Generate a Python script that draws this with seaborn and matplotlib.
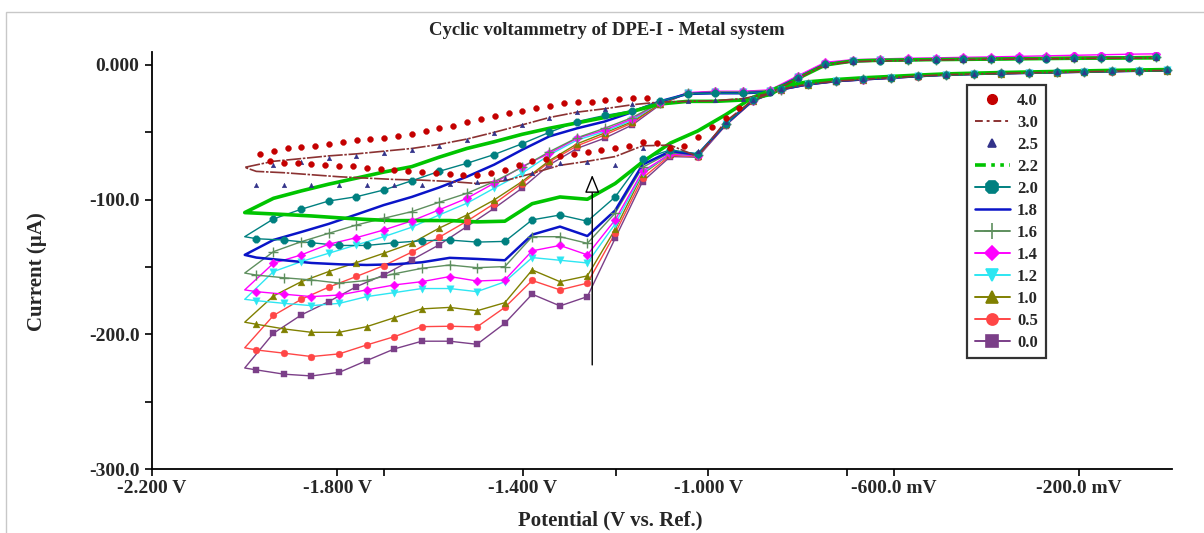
import matplotlib
matplotlib.use("Agg")
import matplotlib.pyplot as plt
import seaborn as sns
from matplotlib.lines import Line2D
from matplotlib.patches import Rectangle

# potentials (V) where the forward (cathodic) and reverse branches were sampled
GRID_FWD = [-1.975, -1.915, -1.856, -1.796, -1.737, -1.677, -1.618, -1.558, -1.499,
            -1.439, -1.380, -1.320, -1.261, -1.201, -1.142, -1.082, -1.023, -0.963,
            -0.904, -0.844, -0.785, -0.725, -0.666, -0.606, -0.547, -0.487, -0.428,
            -0.368, -0.309, -0.249, -0.190, -0.130, -0.071, -0.011]
GRID_REV = [-1.938, -1.878, -1.819, -1.759, -1.700, -1.640, -1.581, -1.521, -1.462,
            -1.402, -1.343, -1.283, -1.224, -1.164, -1.105, -1.045, -0.986, -0.926,
            -0.867, -0.807, -0.748, -0.688, -0.629, -0.569, -0.510, -0.450, -0.391,
            -0.331, -0.272, -0.212, -0.153, -0.093, -0.034]
SWITCH = -2.0

SERIES = ["0.0", "0.5", "1.0", "1.2", "1.4", "1.6", "1.8", "2.0", "2.2", "2.5", "3.0"]
TIPS = [-225.0, -210.0, -191.0, -174.0, -167.0, -154.5, -141.0, -127.5, -109.6, -88.0, -76.0]

LOW_00 = [-226.4, -229.6, -230.9, -228.2, -219.5, -210.8, -205.1, -205.1, -207.4, -191.8, -170.2, -178.9, -172.0, -128.7, -86.6, -68.0, -68.5, -45.0, -27.0, -18.6, -14.8, -12.4, -11.1, -9.9, -8.7, -7.6, -7.0, -6.6, -6.2, -5.8, -5.4, -5.0, -4.6, -4.3]
LOW_05 = [-211.6, -214.0, -216.5, -214.5, -207.9, -201.7, -194.3, -194.0, -194.5, -180.0, -160.0, -167.0, -162.0, -125.0, -84.0, -67.0, -68.0, -44.5, -26.8, -18.5, -14.6, -12.2, -11.0, -9.8, -8.6, -7.5, -7.0, -6.5, -6.1, -5.7, -5.3, -4.9, -4.5, -4.2]
LOW_10 = [-192.5, -196.0, -198.5, -198.5, -194.3, -187.6, -181.1, -180.0, -182.5, -176.5, -152.2, -160.9, -156.6, -122.0, -81.0, -66.0, -67.5, -44.0, -26.5, -18.4, -14.5, -12.2, -10.9, -9.7, -8.5, -7.4, -6.9, -6.4, -6.0, -5.6, -5.2, -4.8, -4.4, -4.1]
LOW_12 = [-175.0, -177.0, -178.7, -177.0, -172.0, -169.0, -166.0, -166.0, -168.3, -161.0, -143.0, -145.0, -147.0, -118.0, -80.0, -66.0, -67.5, -44.0, -26.5, -18.3, -14.4, -12.1, -10.8, -9.6, -8.4, -7.4, -6.9, -6.4, -6.0, -5.6, -5.2, -4.8, -4.4, -4.0]
LOW_14 = [-168.3, -170.2, -172.0, -170.8, -167.0, -163.3, -160.9, -157.1, -160.4, -159.6, -138.0, -134.0, -141.0, -115.0, -79.0, -66.0, -67.5, -44.0, -26.4, -18.3, -14.4, -12.1, -10.8, -9.6, -8.4, -7.3, -6.8, -6.3, -5.9, -5.5, -5.1, -4.7, -4.3, -4.0]
LOW_16 = [-156.0, -158.0, -159.6, -162.0, -160.0, -155.0, -151.0, -148.5, -150.5, -149.7, -127.5, -127.5, -132.4, -110.0, -76.0, -65.0, -67.0, -44.0, -26.3, -18.2, -14.3, -12.0, -10.7, -9.5, -8.3, -7.3, -6.8, -6.3, -5.9, -5.5, -5.1, -4.7, -4.3, -4.0]
LOW_18 = [-143.0, -145.0, -147.0, -148.0, -148.5, -148.0, -146.5, -143.2, -144.0, -145.0, -126.0, -120.0, -127.0, -108.0, -74.0, -64.0, -66.5, -44.0, -26.2, -18.2, -14.3, -12.0, -10.7, -9.5, -8.3, -7.2, -6.7, -6.2, -5.8, -5.4, -5.0, -4.6, -4.3, -4.0]
LOW_20 = [-129.0, -130.0, -132.0, -134.0, -134.0, -132.0, -130.5, -130.0, -131.5, -131.0, -115.0, -111.4, -116.0, -98.0, -70.0, -63.0, -66.0, -44.0, -26.0, -18.0, -14.2, -12.0, -10.6, -9.4, -8.2, -7.2, -6.7, -6.2, -5.8, -5.4, -5.0, -4.6, -4.3, -4.0]
LOW_22 = [-110.0, -111.0, -112.1, -113.5, -114.7, -115.6, -115.5, -115.5, -116.5, -116.0, -103.0, -98.0, -99.7, -88.0, -72.0, -58.0, -49.0, -37.0, -24.0, -16.0, -12.5, -10.8, -9.5, -8.5, -7.5, -6.6, -6.1, -5.6, -5.2, -4.8, -4.4, -4.0, -3.7, -3.4]
LOW_25 = [-89.0, -89.0, -89.0, -89.0, -89.0, -89.0, -89.0, -88.5, -87.0, -84.0, -80.0, -73.0, -72.0, -74.5, -62.0, -60.0, -64.0, -42.0, -26.0, -18.0, -14.2, -12.0, -10.6, -9.4, -8.2, -7.2, -6.7, -6.2, -5.8, -5.4, -5.0, -4.6, -4.3, -4.0]
LOW_30 = [-79.0, -80.0, -81.5, -83.0, -84.0, -85.0, -85.5, -86.5, -88.0, -86.0, -80.5, -74.5, -71.5, -68.0, -60.0, -59.5, -68.0, -42.0, -26.0, -18.0, -14.2, -12.0, -10.6, -9.4, -8.2, -7.2, -6.7, -6.2, -5.8, -5.4, -5.0, -4.6, -4.3, -4.0]

UP_00 = [-199.2, -185.6, -175.7, -164.6, -155.9, -144.8, -133.6, -120.0, -106.4, -91.5, -74.2, -61.9, -54.4, -44.5, -29.7, -21.0, -20.0, -20.0, -19.0, -9.0, 1.0, 3.0, 3.5, 4.0, 4.0, 4.5, 4.5, 5.0, 5.0, 5.5, 5.5, 6.0, 6.0]
UP_05 = [-186.0, -174.0, -165.0, -157.0, -149.0, -139.0, -128.0, -116.0, -103.0, -88.0, -72.0, -60.0, -52.0, -43.0, -29.0, -21.0, -20.0, -20.0, -19.0, -9.0, 1.0, 3.2, 3.8, 4.2, 4.5, 4.8, 5.0, 5.3, 5.5, 5.8, 6.0, 6.2, 6.5]
UP_10 = [-171.5, -160.9, -153.4, -146.7, -139.8, -132.4, -121.2, -111.4, -100.2, -86.6, -71.0, -58.5, -50.5, -42.0, -29.0, -21.0, -20.0, -20.0, -19.0, -9.0, 1.0, 3.0, 3.5, 4.0, 4.2, 4.5, 4.7, 5.0, 5.2, 5.4, 5.6, 5.8, 6.0]
UP_12 = [-153.4, -146.0, -139.8, -133.6, -127.5, -120.5, -111.4, -102.7, -91.5, -80.4, -66.8, -55.7, -49.5, -41.0, -28.0, -21.0, -20.0, -20.0, -19.0, -9.0, 1.0, 3.0, 3.5, 4.0, 4.2, 4.5, 4.7, 5.0, 5.2, 5.4, 5.6, 5.8, 6.0]
UP_14 = [-147.2, -141.0, -133.1, -128.2, -122.5, -115.8, -107.6, -99.0, -87.8, -75.5, -65.6, -54.4, -48.3, -40.0, -28.0, -20.5, -19.5, -19.5, -18.5, -8.0, 2.0, 4.0, 4.5, 5.0, 5.3, 5.7, 6.0, 6.4, 6.8, 7.2, 7.6, 8.0, 8.3]
UP_16 = [-138.6, -131.2, -125.0, -118.8, -113.8, -108.9, -102.0, -95.3, -86.6, -76.0, -64.4, -54.0, -47.0, -39.0, -28.0, -21.0, -20.0, -20.0, -19.0, -9.0, 1.0, 3.0, 3.5, 3.8, 4.0, 4.3, 4.5, 4.8, 5.0, 5.2, 5.4, 5.6, 5.8]
UP_18 = [-129.9, -124.0, -118.0, -111.0, -104.0, -98.0, -91.0, -83.0, -74.0, -63.0, -53.0, -47.0, -42.0, -35.0, -27.0, -21.5, -21.0, -21.0, -20.0, -9.5, 0.5, 2.8, 3.3, 3.7, 4.0, 4.2, 4.4, 4.6, 4.8, 5.0, 5.2, 5.4, 5.6]
UP_20 = [-114.3, -107.1, -101.0, -97.8, -92.8, -86.0, -79.0, -73.0, -66.5, -58.5, -50.0, -42.0, -37.5, -34.0, -27.0, -21.5, -21.0, -21.0, -20.0, -9.5, 0.5, 2.8, 3.3, 3.7, 4.0, 4.2, 4.4, 4.6, 4.8, 5.0, 5.2, 5.4, 5.6]
UP_22 = [-99.0, -93.5, -88.5, -84.0, -79.5, -75.5, -68.5, -62.0, -57.0, -51.5, -47.0, -43.0, -39.0, -34.5, -29.0, -27.0, -27.0, -26.0, -22.0, -10.0, 0.0, 3.0, 3.5, 3.8, 4.0, 4.2, 4.4, 4.6, 4.8, 5.0, 5.1, 5.2, 5.3]
UP_25 = [-74.2, -71.8, -69.3, -67.6, -65.6, -63.1, -60.1, -55.7, -50.3, -44.5, -39.1, -35.1, -32.7, -29.0, -27.0, -26.5, -26.0, -25.0, -21.0, -10.0, 0.0, 2.5, 3.0, 3.4, 3.7, 4.0, 4.2, 4.4, 4.6, 4.8, 5.0, 5.1, 5.2]
UP_30 = [-71.5, -69.5, -67.5, -66.0, -64.0, -62.0, -59.0, -55.0, -50.0, -44.5, -39.0, -35.0, -32.5, -29.5, -27.5, -27.0, -26.5, -25.0, -21.0, -10.0, 0.0, 2.5, 3.0, 3.4, 3.7, 4.0, 4.2, 4.4, 4.6, 4.8, 5.0, 5.1, 5.2]

LOWS = [LOW_00, LOW_05, LOW_10, LOW_12, LOW_14, LOW_16, LOW_18, LOW_20, LOW_22, LOW_25, LOW_30]
UPS = [UP_00, UP_05, UP_10, UP_12, UP_14, UP_16, UP_18, UP_20, UP_22, UP_25, UP_30]

# 4.0 is recorded with a denser point spacing
GRID_40_LOW = [-1.946, -1.916, -1.886, -1.856, -1.827, -1.797, -1.767, -1.737, -1.707,
               -1.678, -1.648, -1.618, -1.588, -1.558, -1.529, -1.499, -1.469, -1.439,
               -1.409, -1.380, -1.350, -1.320, -1.290, -1.260, -1.231, -1.201, -1.171,
               -1.141, -1.111, -1.082, -1.052, -1.022, -0.992, -0.962, -0.933]
LOW_40 = [-71.4, -72.5, -73.0, -73.6, -74.3, -74.8, -75.1, -76.5, -77.2, -78.0, -79.0, -79.8,
          -80.5, -81.2, -81.8, -81.8, -80.5, -78.0, -74.3, -71.5, -69.5, -67.4, -66.0, -64.5,
          -63.2, -62.0, -60.5, -57.5, -58.0, -61.7, -60.0, -53.5, -46.0, -39.0, -32.0]
GRID_40_UP = [-1.967, -1.937, -1.907, -1.878, -1.848, -1.818, -1.788, -1.758, -1.729,
              -1.699, -1.669, -1.639, -1.609, -1.580, -1.550, -1.520, -1.490, -1.460,
              -1.431, -1.401, -1.371, -1.341, -1.311, -1.282, -1.252, -1.222, -1.192,
              -1.162, -1.133]
UP_40 = [-66.2, -64.0, -62.0, -61.0, -60.2, -58.5, -57.0, -56.0, -55.2, -54.0, -52.8, -51.0,
         -48.8, -47.0, -45.0, -42.7, -40.4, -38.0, -35.4, -33.8, -32.2, -30.3, -28.5, -27.8,
         -27.2, -26.2, -25.3, -24.7, -24.2]

X_TICKS = [-2.2, -1.8, -1.4, -1.0, -0.6, -0.2]
X_TICK_LABELS = ["-2.200 V", "-1.800 V", "-1.400 V", "-1.000 V", "-600.0 mV", "-200.0 mV"]
X_MINOR = [-1.7, -1.2, -0.7]
Y_TICKS = [0, -100, -200, -300]
Y_TICK_LABELS = ["0.000", "-100.0", "-200.0", "-300.0"]
Y_MINOR = [-50, -150, -250]

STYLE = {
    "0.0": dict(color="#7B3F88", lw=1.0, ls="-", marker="s", s=20, ms=8),
    "0.5": dict(color="#FF4646", lw=1.0, ls="-", marker="o", s=24, ms=8),
    "1.0": dict(color="#808000", lw=1.0, ls="-", marker="^", s=24, ms=8),
    "1.2": dict(color="#2DE6F2", lw=1.0, ls="-", marker="v", s=28, ms=8),
    "1.4": dict(color="#FF00FF", lw=1.0, ls="-", marker="D", s=20, ms=7),
    "1.6": dict(color="#5E8F5E", lw=1.0, ls="-", marker="+", s=50, ms=11),
    "1.8": dict(color="#0A14C8", lw=1.8, ls="-", marker=None, s=0, ms=0),
    "2.0": dict(color="#008080", lw=1.0, ls="-", marker="8", s=32, ms=10),
    "2.2": dict(color="#00C400", lw=2.6, ls="-", marker=None, s=0, ms=0),
    "2.5": dict(color="#33338A", lw=0, ls="none", marker="^", s=11, ms=6),
    "3.0": dict(color="#8B3232", lw=1.2, ls=(0, (9, 1, 1.5, 1)), marker=None, s=0, ms=0),
}
COLOR_40 = "#C40000"

sns.set_style("ticks")
plt.rcParams["font.family"] = ["Liberation Serif", "DejaVu Serif"]
plt.rcParams["font.weight"] = "bold"

fig = plt.figure(figsize=(12.04, 5.33), dpi=100)
ax = fig.add_axes([152 / 1204, 1 - 469 / 533, 1020 / 1204, 417 / 533])

for name, low, up, tip in zip(SERIES, LOWS, UPS, TIPS):
    st = STYLE[name]
    if st["lw"] > 0:
        # closed CV loop: forward sweep to the switching potential, then back
        px = GRID_FWD[::-1] + [SWITCH] + GRID_REV
        py = low[::-1] + [tip] + up
        sns.lineplot(x=px, y=py, sort=False, estimator=None, color=st["color"],
                     linewidth=st["lw"], linestyle=st["ls"], ax=ax)
    if st["marker"]:
        sns.scatterplot(x=GRID_FWD + GRID_REV, y=low + up, marker=st["marker"],
                        s=st["s"], color=st["color"], edgecolor=st["color"],
                        linewidth=1.0 if st["marker"] == "+" else 0.3, ax=ax, zorder=3)

sns.scatterplot(x=GRID_40_LOW + GRID_40_UP, y=LOW_40 + UP_40, marker="o", s=18,
                color=COLOR_40, edgecolor=COLOR_40, linewidth=0.3, ax=ax, zorder=4)

ax.annotate("", xy=(-1.2505, -81.7), xytext=(-1.2505, -222.7),
            arrowprops=dict(arrowstyle="-|>,head_length=1.1,head_width=0.45",
                            ec="black", fc="white", lw=1.0, shrinkA=0, shrinkB=0))

ax.set_xlim(-2.2, 0.0)
ax.set_ylim(-300, 9.65)
ax.set_xticks(X_TICKS)
ax.set_xticklabels(X_TICK_LABELS, fontsize=14, fontweight="bold")
ax.set_xticks(X_MINOR, minor=True)
ax.set_yticks(Y_TICKS)
ax.set_yticklabels(Y_TICK_LABELS, fontsize=14, fontweight="bold")
ax.set_yticks(Y_MINOR, minor=True)
ax.tick_params(which="both", direction="out", length=5, width=1.2, color="black")
ax.tick_params(axis="x", pad=3)
ax.tick_params(axis="y", pad=4)
for side in ["top", "right"]:
    ax.spines[side].set_visible(False)
for side in ["left", "bottom"]:
    ax.spines[side].set_linewidth(1.3)
    ax.spines[side].set_color("black")
ax.set_xlabel("")
ax.set_ylabel("")

fig.text(0.504, 0.942, "Cyclic voltammetry of DPE-I - Metal system", ha="center",
         va="center", fontsize=13.5, fontweight="bold")
fig.text(0.0307, 0.49, "Current (\u00b5A)", rotation=90, ha="center", va="center",
         fontsize=15, fontweight="bold")
fig.text(0.5066, 0.0235, "Potential (V vs. Ref.)", ha="center", va="center",
         fontsize=15, fontweight="bold")

handles = [Line2D([], [], ls="none", marker="o", ms=7, color=COLOR_40, label="4.0")]
legend_order = ["3.0", "2.5", "2.2", "2.0", "1.8", "1.6", "1.4", "1.2", "1.0", "0.5", "0.0"]
for name in legend_order:
    st = STYLE[name]
    ls = st["ls"]
    lw = max(st["lw"], 1.4)
    if name == "3.0":
        ls = (0, (4, 2, 1.5, 2))
    if name == "2.2":
        ls = (0, (3, 1.5, 1, 1.5, 1, 1.5))
        lw = 2.6
    handles.append(Line2D([], [], color=st["color"], ls=ls, lw=lw,
                          marker=st["marker"] if st["marker"] else None,
                          ms=st["ms"], mew=1.2, label=name))
leg = ax.legend(handles=handles, loc="upper left", bbox_to_anchor=(967 / 1204, 1 - 85 / 533),
                bbox_transform=fig.transFigure, frameon=True, fancybox=False,
                borderaxespad=0, labelspacing=0.36, handlelength=2.1,
                handletextpad=0.45, borderpad=0.45, prop={"weight": "bold", "size": 12})
leg.get_frame().set_edgecolor("black")
leg.get_frame().set_linewidth(1.6)

fig.add_artist(Rectangle((6 / 1204, -0.05), 1.0, 1.05 - 12 / 533, transform=fig.transFigure,
                         fill=False, edgecolor="#c8c8c8", lw=1.0))

fig.savefig("out.png", dpi=100)
